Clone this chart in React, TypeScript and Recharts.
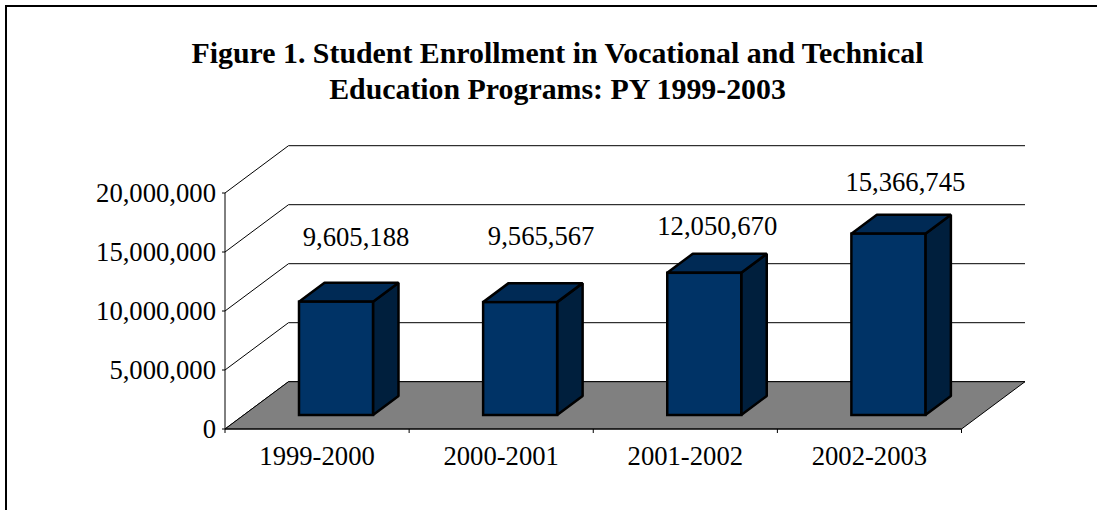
import { BarChart, Bar, XAxis, YAxis, LabelList, usePlotArea } from 'recharts';

const categories = ['1999-2000', '2000-2001', '2001-2002', '2002-2003'];
const enrollment = [9605188, 9565567, 12050670, 15366745];
const yTicks = [0, 5000000, 10000000, 15000000, 20000000];
const yMax = 20000000;

// hand placed labels in the original, offset from the bar top
const labelNudgeX = [20, 21, 13, 17];
const labelNudgeY = [-70, -71, -52, -57];

const data = categories.map((name, i) => ({ name, value: enrollment[i] }));

const FONT = '"Liberation Serif", "Times New Roman", serif';
const FONT_SIZE = 26.67;
const WALL_DX = 63.5;
const WALL_DY = -47.3;
const BAR_SHIFT_X = 19;
const BAR_SHIFT_Y = -14;
const BAR_DX = 25.5;
const BAR_DY = -19;

function Walls() {
  const plot = usePlotArea();
  if (!plot) return null;
  const { x, y, width, height } = plot;
  const bottom = y + height;
  const bandW = width / categories.length;
  return (
    <g>
      {yTicks.map((t) => {
        const ty = bottom - (t / yMax) * height;
        return (
          <g key={t} stroke="#000" strokeWidth={1} fill="none">
            <line x1={x} y1={ty} x2={x + WALL_DX} y2={ty + WALL_DY} />
            <line x1={x + WALL_DX} y1={ty + WALL_DY} x2={x + width + WALL_DX} y2={ty + WALL_DY} />
          </g>
        );
      })}
      <polygon
        points={`${x},${bottom} ${x + WALL_DX},${bottom + WALL_DY} ${x + width + WALL_DX},${bottom + WALL_DY} ${x + width},${bottom}`}
        fill="#808080"
        stroke="#000"
        strokeWidth={1}
      />
      {categories.concat('').map((_, i) => (
        <line key={i} x1={x + i * bandW} y1={bottom} x2={x + i * bandW} y2={bottom + 4} stroke="#000" />
      ))}
    </g>
  );
}

function Bar3D(props: any) {
  const x = props.x + BAR_SHIFT_X;
  const y = props.y + BAR_SHIFT_Y;
  const { width: w, height: h } = props;
  return (
    <g stroke="#000" strokeWidth={2.5} strokeLinejoin="bevel">
      <polygon
        points={`${x + w},${y} ${x + w + BAR_DX},${y + BAR_DY} ${x + w + BAR_DX},${y + h + BAR_DY} ${x + w},${y + h}`}
        fill="#001F3D"
      />
      <polygon
        points={`${x},${y} ${x + BAR_DX},${y + BAR_DY} ${x + w + BAR_DX},${y + BAR_DY} ${x + w},${y}`}
        fill="#002A55"
      />
      <rect x={x} y={y} width={w} height={h} fill="#003366" strokeLinejoin="miter" />
    </g>
  );
}

function ValueLabel(props: any) {
  const { x, y, width, value, index } = props;
  return (
    <text
      x={x + width / 2 + BAR_SHIFT_X + labelNudgeX[index]}
      y={y + labelNudgeY[index]}
      textAnchor="middle"
      fontFamily={FONT}
      fontSize={FONT_SIZE}
      fill="#000"
    >
      {Number(value).toLocaleString('en-US')}
    </text>
  );
}

export default function App() {
  return (
    <div style={{ position: 'absolute', left: 0, top: 0, width: 1097, height: 510, background: '#fff', overflow: 'hidden' }}>
      <div style={{ position: 'absolute', left: 5, top: 5, width: 1092, height: 505, borderLeft: '2px solid #000', borderTop: '2px solid #000' }} />
      <div
        style={{
          position: 'absolute',
          left: 0,
          width: 1115,
          top: 35,
          textAlign: 'center',
          fontFamily: FONT,
          fontWeight: 'bold',
          fontSize: 29.85,
          lineHeight: '36px',
          whiteSpace: 'nowrap',
        }}
      >
        Figure 1. Student Enrollment in Vocational and Technical
        <br />
        Education Programs: PY 1999-2003
      </div>
      <div style={{ position: 'absolute', left: 0, top: 0 }}>
        <BarChart
          width={1097}
          height={510}
          data={data}
          margin={{ top: 193, right: 135.5, bottom: 0, left: 0 }}
          style={{ background: 'transparent' }}
        >
          <Walls />
          <XAxis
            dataKey="name"
            height={81}
            tickLine={false}
            axisLine={{ stroke: '#000' }}
            tickMargin={11}
            tick={{ fill: '#000', fontFamily: FONT, fontSize: FONT_SIZE }}
            interval={0}
          />
          <YAxis
            width={225}
            domain={[0, yMax]}
            ticks={yTicks}
            tickFormatter={(v: number) => v.toLocaleString('en-US')}
            axisLine={{ stroke: '#000' }}
            tickLine={{ stroke: '#000' }}
            tickSize={3}
            tickMargin={6}
            tick={{ fill: '#000', fontFamily: FONT, fontSize: FONT_SIZE }}
            interval={0}
          />
          <Bar dataKey="value" barSize={74} shape={<Bar3D />} isAnimationActive={false}>
            <LabelList dataKey="value" content={<ValueLabel />} />
          </Bar>
        </BarChart>
      </div>
    </div>
  );
}
